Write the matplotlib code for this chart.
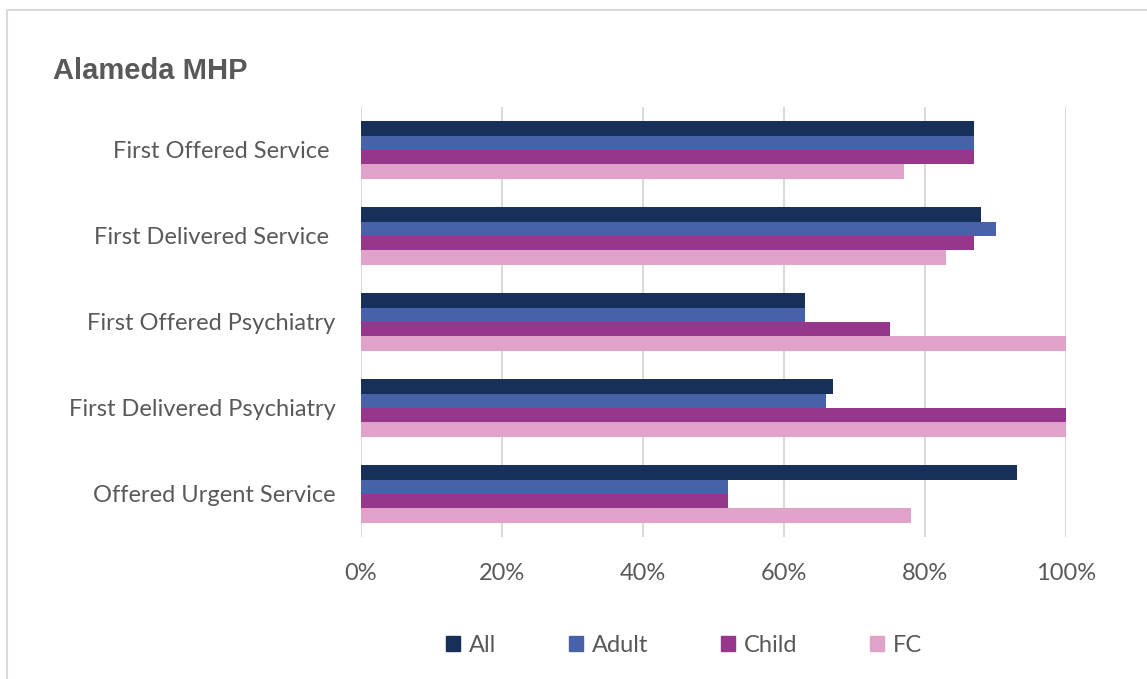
import matplotlib.pyplot as plt
import matplotlib.patches as mpatches
import numpy as np

categories = ["First Offered Service ", "First Delivered Service ", "First Offered Psychiatry",
              "First Delivered Psychiatry", "Offered Urgent Service"]
series = ["All", "Adult", "Child", "FC"]
all_vals = [87, 88, 63, 67, 93]
adult_vals = [87, 90, 63, 66, 52]
child_vals = [87, 87, 75, 100, 52]
fc_vals = [77, 83, 100, 100, 78]
colors = ["#17305A", "#4862AA", "#96378B", "#E0A2C8"]
xticks = [0, 20, 40, 60, 80, 100]

plt.rcParams['font.family'] = ['Lato', 'DejaVu Sans']
text_color = "#595959"

fig = plt.figure(figsize=(11.47, 6.79), dpi=100)
ax = fig.add_axes([361 / 1147, 1 - 537 / 679, 705 / 1147, 430 / 679])

# outer frame of the chart
fig.patches.append(mpatches.Rectangle((7 / 1147, -0.01), 1.2, 1 - 10 / 679 + 0.01,
                                      transform=fig.transFigure, fill=False,
                                      edgecolor="#D9D9D9", linewidth=1.5))

y = np.arange(len(categories))
h = 0.1686
values = [all_vals, adult_vals, child_vals, fc_vals]
for i, (name, vals) in enumerate(zip(series, values)):
    offset = (i - 1.5) * h
    ax.barh(y + offset, vals, height=h, color=colors[i], label=name, zorder=3)

ax.set_ylim(len(categories) - 0.5, -0.5)
ax.set_xlim(0, 100)
ax.set_xticks(xticks)
ax.set_xticklabels([f"{t}%" for t in xticks])
ax.set_yticks(y)
ax.set_yticklabels(categories)
ax.tick_params(axis='both', length=0, labelsize=17, labelcolor=text_color)
ax.tick_params(axis='x', pad=19)
ax.tick_params(axis='y', pad=18.5)
ax.grid(axis='x', color="#D9D9D9", linewidth=1.5, zorder=0)
for s in ax.spines.values():
    s.set_visible(False)

fig.text(53 / 1147, 1 - 71 / 679, "Alameda MHP", fontsize=21, fontweight='bold',
         color=text_color, va='center', ha='left', family=['Liberation Sans', 'DejaVu Sans'])

handles = [mpatches.Patch(color=c, label=s) for c, s in zip(colors, series)]
fig.legend(handles=handles, loc='center', bbox_to_anchor=(684 / 1147, 1 - 645 / 679), ncol=4,
           frameon=False, fontsize=17, labelcolor=text_color, handlelength=0.6,
           handleheight=0.6, handletextpad=0.35, columnspacing=3.1)

fig.savefig("out.png", dpi=100)
